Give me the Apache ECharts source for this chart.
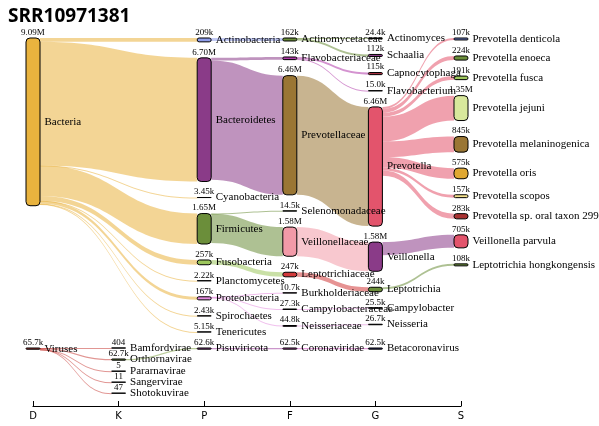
<!DOCTYPE html>
<html><head><meta charset="utf-8">
<script src="https://cdn.jsdelivr.net/npm/echarts@6/dist/echarts.min.js"></script>
<style>html,body{margin:0;padding:0;background:#fff}#c{width:599px;height:426px}</style>
</head><body><div id="c"></div>
<script>
// ---------- data ----------
const title = 'SRR10971381';
const ranks = ['D', 'K', 'P', 'F', 'G', 'S'];

const nodeNames = [
  'Bacteria', 'Viruses',
  'Bamfordvirae', 'Orthornavirae', 'Pararnavirae', 'Sangervirae', 'Shotokuvirae',
  'Actinobacteria', 'Bacteroidetes', 'Cyanobacteria', 'Firmicutes', 'Fusobacteria',
  'Planctomycetes', 'Proteobacteria', 'Spirochaetes', 'Tenericutes', 'Pisuviricota',
  'Actinomycetaceae', 'Flavobacteriaceae', 'Prevotellaceae', 'Selenomonadaceae', 'Veillonellaceae',
  'Leptotrichiaceae', 'Burkholderiaceae', 'Campylobacteraceae', 'Neisseriaceae', 'Coronaviridae',
  'Actinomyces', 'Schaalia', 'Capnocytophaga', 'Flavobacterium', 'Prevotella',
  'Veillonella', 'Leptotrichia', 'Campylobacter', 'Neisseria', 'Betacoronavirus',
  'Prevotella denticola', 'Prevotella enoeca', 'Prevotella fusca', 'Prevotella jejuni',
  'Prevotella melaninogenica', 'Prevotella oris', 'Prevotella scopos', 'Prevotella sp. oral taxon 299',
  'Veillonella parvula', 'Leptotrichia hongkongensis'
];
const nodeRanks = [
  'D', 'D',
  'K', 'K', 'K', 'K', 'K',
  'P', 'P', 'P', 'P', 'P', 'P', 'P', 'P', 'P', 'P',
  'F', 'F', 'F', 'F', 'F', 'F', 'F', 'F', 'F', 'F',
  'G', 'G', 'G', 'G', 'G', 'G', 'G', 'G', 'G', 'G',
  'S', 'S', 'S', 'S', 'S', 'S', 'S', 'S', 'S', 'S'
];
const nodeValues = [
  9090000, 65700,
  404, 62700, 5, 11, 47,
  209000, 6700000, 3450, 1650000, 257000, 2220, 167000, 2430, 5150, 62600,
  162000, 143000, 6460000, 14500, 1580000, 247000, 10700, 27300, 44800, 62500,
  24400, 112000, 115000, 15000, 6460000, 1580000, 244000, 25500, 26700, 62500,
  107000, 224000, 191000, 1350000, 845000, 575000, 157000, 283000,
  705000, 108000
];
const nodeParents = [
  null, null,
  'Viruses', 'Viruses', 'Viruses', 'Viruses', 'Viruses',
  'Bacteria', 'Bacteria', 'Bacteria', 'Bacteria', 'Bacteria',
  'Bacteria', 'Bacteria', 'Bacteria', 'Bacteria', 'Orthornavirae',
  'Actinobacteria', 'Bacteroidetes', 'Bacteroidetes', 'Firmicutes', 'Firmicutes',
  'Fusobacteria', 'Proteobacteria', 'Proteobacteria', 'Proteobacteria', 'Pisuviricota',
  'Actinomycetaceae', 'Actinomycetaceae', 'Flavobacteriaceae', 'Flavobacteriaceae', 'Prevotellaceae',
  'Veillonellaceae', 'Leptotrichiaceae', 'Campylobacteraceae', 'Neisseriaceae', 'Coronaviridae',
  'Prevotella', 'Prevotella', 'Prevotella', 'Prevotella',
  'Prevotella', 'Prevotella', 'Prevotella', 'Prevotella',
  'Veillonella', 'Leptotrichia'
];

// ---------- styles ----------
const nodeColors = {
  'Bacteria': '#E9B33E', 'Viruses': '#C9403A',
  'Bamfordvirae': '#5B6FC6', 'Orthornavirae': '#7FA046', 'Pararnavirae': '#9BC55A',
  'Sangervirae': '#E9B33E', 'Shotokuvirae': '#8A3B88',
  'Actinobacteria': '#8E9DEB', 'Bacteroidetes': '#8A3B88', 'Cyanobacteria': '#9BC55A',
  'Firmicutes': '#6B8E3A', 'Fusobacteria': '#9DC75C', 'Planctomycetes': '#E9B33E',
  'Proteobacteria': '#E48BDF', 'Spirochaetes': '#E9B33E', 'Tenericutes': '#E9B33E',
  'Pisuviricota': '#A040A0',
  'Actinomycetaceae': '#6B8E3A', 'Flavobacteriaceae': '#B13AA9', 'Prevotellaceae': '#9A7634',
  'Selenomonadaceae': '#9BC55A', 'Veillonellaceae': '#F29AA8', 'Leptotrichiaceae': '#D23A3A',
  'Burkholderiaceae': '#E48BDF', 'Campylobacteraceae': '#E48BDF', 'Neisseriaceae': '#E48BDF',
  'Coronaviridae': '#D050C0',
  'Actinomyces': '#9BC55A', 'Schaalia': '#8A3B88', 'Capnocytophaga': '#A83040',
  'Flavobacterium': '#E48BDF', 'Prevotella': '#E3546C', 'Veillonella': '#8A3B88',
  'Leptotrichia': '#6B8E3A', 'Campylobacter': '#555555', 'Neisseria': '#555555',
  'Betacoronavirus': '#303070',
  'Prevotella denticola': '#6F80C8', 'Prevotella enoeca': '#6B8E3A', 'Prevotella fusca': '#9DC75C',
  'Prevotella jejuni': '#D8E89C', 'Prevotella melaninogenica': '#9A7634', 'Prevotella oris': '#E0A832',
  'Prevotella scopos': '#F5E28E', 'Prevotella sp. oral taxon 299': '#A83232',
  'Veillonella parvula': '#E3546C', 'Leptotrichia hongkongensis': '#6B8E3A'
};

function fmt(v) {
  if (v >= 1e6) return (v / 1e6).toPrecision(3) + 'M';
  if (v >= 1e3) return (v / 1e3).toPrecision(3) + 'k';
  return String(v);
}

const valueByName = {}, parentByName = {};
nodeNames.forEach((n, i) => { valueByName[n] = nodeValues[i]; parentByName[n] = nodeParents[i]; });
function rootOf(n) { while (parentByName[n]) n = parentByName[n]; return n; }

function buildTree(root) {
  const data = [], links = [];
  nodeNames.forEach((n, i) => {
    if (rootOf(n) !== root) return;
    data.push({ name: n, value: nodeValues[i], depth: ranks.indexOf(nodeRanks[i]),
                itemStyle: { color: nodeColors[n] } });
    if (nodeParents[i]) links.push({ source: nodeParents[i], target: n, value: nodeValues[i] });
  });
  return { data, links };
}

const serif = 'Liberation Serif';
const colStep = (599 - 26 - 131 - 14) / 5;
const trees = [
  Object.assign(buildTree('Bacteria'), { box: { left: 26, right: 131, top: 38, bottom: 94 }, gap: 16 }),
  Object.assign(buildTree('Viruses'), { box: { left: 26, right: 131 + colStep, top: 348, bottom: 32.8 }, gap: 11 })
];

const series = [];
trees.forEach(t => {
  const common = Object.assign({
    type: 'sankey', nodeAlign: 'left', nodeWidth: 14, nodeGap: t.gap,
    layoutIterations: 0, draggable: false, emphasis: { disabled: true },
    data: t.data, links: t.links
  }, t.box);
  series.push(Object.assign({}, common, {
    z: 2,
    itemStyle: { borderColor: '#000', borderWidth: 1, borderRadius: 4 },
    lineStyle: { color: 'source', opacity: 0.55, curveness: 0.5 },
    label: { show: true, position: 'right', distance: 4, fontFamily: serif, fontSize: 11, color: '#000' }
  }));
  series.push(Object.assign({}, common, {
    z: 3, silent: true,
    itemStyle: { opacity: 0 }, lineStyle: { opacity: 0 },
    label: { show: true, position: 'top', distance: 1, fontFamily: serif, fontSize: 9, color: '#000',
             formatter: p => fmt(valueByName[p.name]) }
  }));
});

const chart = echarts.init(document.getElementById('c'), null, { renderer: 'canvas' });
chart.setOption({
  animation: false,
  backgroundColor: '#fff',
  title: {
    text: title, left: 3, top: 2,
    textStyle: { fontFamily: 'Open Sans', fontWeight: 'bold', fontSize: 19, color: '#000' }
  },
  grid: { left: 33, right: 138, top: 300, bottom: 20, show: false },
  xAxis: {
    type: 'category', data: ranks, boundaryGap: false,
    axisLine: { lineStyle: { color: '#000', width: 1.2 } },
    axisTick: { inside: true, length: 5, lineStyle: { color: '#000' } },
    axisLabel: { color: '#000', fontFamily: 'DejaVu Sans', fontSize: 10, margin: 5 },
    splitLine: { show: false }
  },
  yAxis: { type: 'value', show: false },
  series: series
});
</script></body></html>
